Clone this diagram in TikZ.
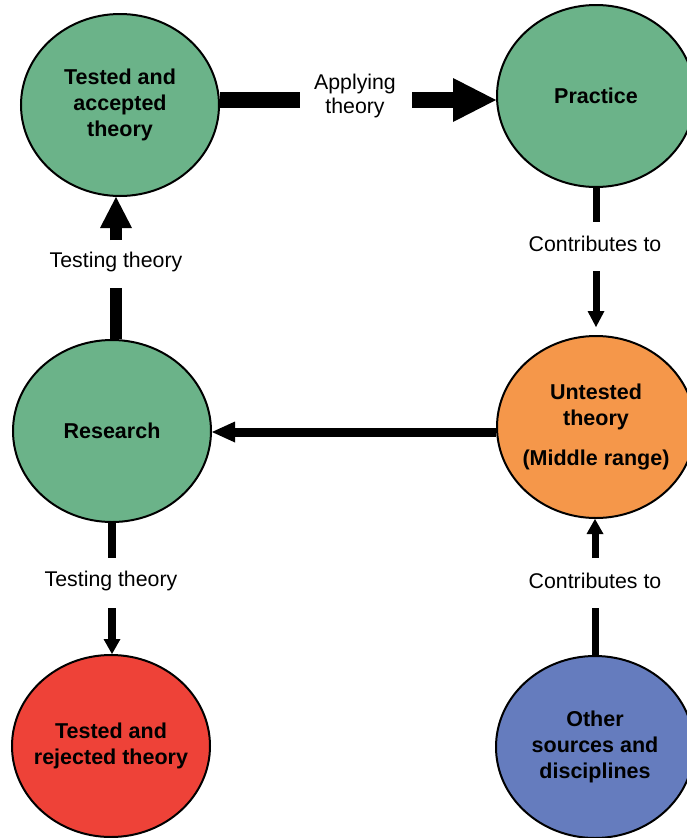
\documentclass[tikz,border=0pt]{standalone}
\usepackage{fontspec}
\setmainfont{Liberation Sans}
\usetikzlibrary{arrows.meta,shapes.geometric}
\definecolor{cgreen}{RGB}{107,179,137}
\definecolor{corange}{RGB}{245,151,74}
\definecolor{cred}{RGB}{238,66,56}
\definecolor{cblue}{RGB}{101,124,190}
\begin{document}
\begin{tikzpicture}[x=1pt,y=-1pt,
  bubble/.style={ellipse, draw=black, line width=2pt, inner sep=-40pt,
    minimum width=198pt, minimum height=182pt,
    font=\fontsize{21.5}{26}\selectfont\bfseries, align=center},
  lbl/.style={font=\fontsize{21.3}{24}\selectfont, align=center, inner sep=0pt},
  bar/.style={line width=#1, line cap=butt},
]
\clip (0,0) rectangle (687,838);
\useasboundingbox (0,0) rectangle (687,838);
\fill[white] (0,0) rectangle (687,838);

% circles
\node[bubble, fill=cgreen]  (a) at (120,105) {Tested and\\accepted\\theory};
\node[bubble, fill=cgreen]  (p) at (596,96)  {Practice};
\node[bubble, fill=cgreen]  (r) at (112,431) {Research};
\node[bubble, fill=corange] (u) at (596,427) {Untested\\theory\\[14pt](Middle range)};
\node[bubble, fill=cred]    (x) at (111,746) {Tested and\\rejected theory};
\node[bubble, fill=cblue]   (o) at (595,747) {Other\\sources and\\disciplines};

% labels
\node[lbl] (l1) at (355,96)  {Applying\\theory};
\node[lbl] (l2) at (116,262) {Testing theory};
\node[lbl] (l3) at (595,244) {Contributes to};
\node[lbl] (l4) at (111,581) {Testing theory};
\node[lbl] (l5) at (595,581) {Contributes to};

% gap ends
\coordinate (g1) at (300,100);
\coordinate (g2) at (412,100);
\coordinate (g3) at (116,288);
\coordinate (g4) at (116,240);
\coordinate (g5) at (596,222);
\coordinate (g6) at (596,271);
\coordinate (m)  at (350,432);
\coordinate (g7) at (112,558);
\coordinate (g8) at (112,608);
\coordinate (g9) at (595,608);
\coordinate (g10) at (595,558);

% connectors
\draw[bar=16pt] (g1 -| a.east) -- (g1);
\draw[bar=16pt, -{Triangle[length=43pt,width=44pt,line width=0pt]}] (g2) -- (g2 -| p.west);

\draw[bar=12pt] (g3 |- r.north) -- (g3);
\draw[bar=12pt, -{Triangle[length=31pt,width=32pt,line width=0pt]}] (g4) -- (g4 |- a.south);

\draw[bar=7pt] (p.south) -- (g5);
\draw[bar=7pt, shorten >=8pt, -{Triangle[length=16pt,width=17pt,line width=0pt]}] (g6) -- (u.north);

\draw[bar=9pt, -{Triangle[length=23pt,width=21pt,line width=0pt]}] (m -| u.west) -- (m -| r.east);

\draw[bar=8pt] (r.south) -- (g7);
\draw[bar=8pt, -{Triangle[length=15pt,width=17pt,line width=0pt]}] (g8) -- (g8 |- x.north);

\draw[bar=7pt] (o.north) -- (g9);
\draw[bar=7pt, -{Triangle[length=15pt,width=17pt,line width=0pt]}] (g10) -- (g10 |- u.south);
\end{tikzpicture}
\end{document}
